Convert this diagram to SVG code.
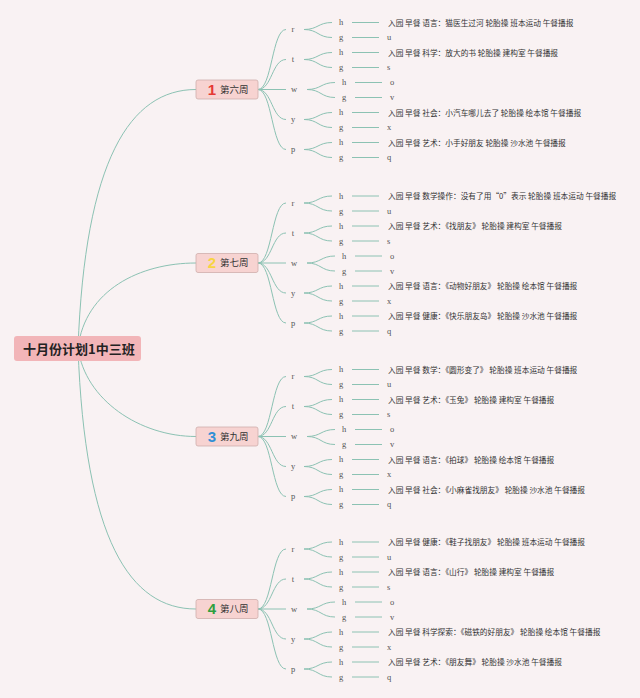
<svg xmlns="http://www.w3.org/2000/svg" width="640" height="698" viewBox="0 0 640 698">
<defs>
<style>
.bg{fill:#f9f2f3}
.cn{fill:none;stroke:#8cc2b3;stroke-width:1}
.rootbox{fill:#f2b5b8}
.roott{font-family:"Noto Sans CJK SC",sans-serif;font-size:13px;font-weight:bold;fill:#222}
.wk{fill:#f7d3d1;stroke:#cfaeac;stroke-width:0.8}
.num{font-family:"Liberation Sans",Arial,sans-serif;font-size:15px;font-weight:bold;text-anchor:middle}
.wt{font-family:"Noto Sans CJK SC",sans-serif;font-size:9.5px;fill:#333}
.lt{font-family:"Liberation Serif",serif;font-size:8.5px;fill:#555;text-anchor:middle}
.lv{font-family:"Liberation Serif",serif;font-size:8.5px;fill:#555}
.vt{font-family:"Noto Sans CJK SC",sans-serif;font-size:7.7px;fill:#333}
</style>
</defs>
<rect class="bg" x="0" y="0" width="640" height="698"/>
<g id="connectors">
 <path class="cn" d="M78 348 C85 160 130 89.5 196 89.5"/>
 <path class="cn" d="M78 348 C85 290 140 263 196 263"/>
 <path class="cn" d="M78 348 C85 400 140 436.5 196 436.5"/>
 <path class="cn" d="M78 348 C85 540 130 609 196 609"/>
 <g id="c-w1" transform="translate(0,89.5)">
  <path class="cn" d="M258 0 C272 0 272 -60 286 -60 M258 0 C272 0 272 -30 286 -30 M258 0 H286 M258 0 C272 0 272 30 286 30 M258 0 C272 0 272 60 286 60"/>
  <path class="cn" d="M304 -60 C318 -60 318 -67 332 -67 M304 -60 C318 -60 318 -52 332 -52 M304 -30 C318 -30 318 -37 332 -37 M304 -30 C318 -30 318 -22 332 -22 M307 0 C321 0 321 -7 335 -7 M307 0 C321 0 321 8 335 8 M304 30 C318 30 318 23 332 23 M304 30 C318 30 318 38 332 38 M304 60 C318 60 318 53 332 53 M304 60 C318 60 318 68 332 68"/>
  <path class="cn" d="M352 -67 H379 M352 -52 H379 M352 -37 H379 M352 -22 H379 M355 -7 H382 M355 8 H382 M352 23 H379 M352 38 H379 M352 53 H379 M352 68 H379"/>
 </g>
 <g id="c-w2" transform="translate(0,263)">
  <path class="cn" d="M258 0 C272 0 272 -60 286 -60 M258 0 C272 0 272 -30 286 -30 M258 0 H286 M258 0 C272 0 272 30 286 30 M258 0 C272 0 272 60 286 60"/>
  <path class="cn" d="M304 -60 C318 -60 318 -67 332 -67 M304 -60 C318 -60 318 -52 332 -52 M304 -30 C318 -30 318 -37 332 -37 M304 -30 C318 -30 318 -22 332 -22 M307 0 C321 0 321 -7 335 -7 M307 0 C321 0 321 8 335 8 M304 30 C318 30 318 23 332 23 M304 30 C318 30 318 38 332 38 M304 60 C318 60 318 53 332 53 M304 60 C318 60 318 68 332 68"/>
  <path class="cn" d="M352 -67 H379 M352 -52 H379 M352 -37 H379 M352 -22 H379 M355 -7 H382 M355 8 H382 M352 23 H379 M352 38 H379 M352 53 H379 M352 68 H379"/>
 </g>
 <g id="c-w3" transform="translate(0,436.5)">
  <path class="cn" d="M258 0 C272 0 272 -60 286 -60 M258 0 C272 0 272 -30 286 -30 M258 0 H286 M258 0 C272 0 272 30 286 30 M258 0 C272 0 272 60 286 60"/>
  <path class="cn" d="M304 -60 C318 -60 318 -67 332 -67 M304 -60 C318 -60 318 -52 332 -52 M304 -30 C318 -30 318 -37 332 -37 M304 -30 C318 -30 318 -22 332 -22 M307 0 C321 0 321 -7 335 -7 M307 0 C321 0 321 8 335 8 M304 30 C318 30 318 23 332 23 M304 30 C318 30 318 38 332 38 M304 60 C318 60 318 53 332 53 M304 60 C318 60 318 68 332 68"/>
  <path class="cn" d="M352 -67 H379 M352 -52 H379 M352 -37 H379 M352 -22 H379 M355 -7 H382 M355 8 H382 M352 23 H379 M352 38 H379 M352 53 H379 M352 68 H379"/>
 </g>
 <g id="c-w4" transform="translate(0,609)">
  <path class="cn" d="M258 0 C272 0 272 -60 286 -60 M258 0 C272 0 272 -30 286 -30 M258 0 H286 M258 0 C272 0 272 30 286 30 M258 0 C272 0 272 60 286 60"/>
  <path class="cn" d="M304 -60 C318 -60 318 -67 332 -67 M304 -60 C318 -60 318 -52 332 -52 M304 -30 C318 -30 318 -37 332 -37 M304 -30 C318 -30 318 -22 332 -22 M307 0 C321 0 321 -7 335 -7 M307 0 C321 0 321 8 335 8 M304 30 C318 30 318 23 332 23 M304 30 C318 30 318 38 332 38 M304 60 C318 60 318 53 332 53 M304 60 C318 60 318 68 332 68"/>
  <path class="cn" d="M352 -67 H379 M352 -52 H379 M352 -37 H379 M352 -22 H379 M355 -7 H382 M355 8 H382 M352 23 H379 M352 38 H379 M352 53 H379 M352 68 H379"/>
 </g>
</g>
<g id="root">
 <rect class="rootbox" x="14" y="336" width="127" height="25" rx="3"/>
 <text class="roott" x="23" y="354">十月份计划1中三班</text>
</g>

<g id="branch-w1" transform="translate(0,89.5)">
 <g id="w1"><rect class="wk" x="196" y="-9.5" width="62" height="19" rx="2"/><text class="num" x="212" y="5" fill="#e53935">1</text><text class="wt" x="220" y="3.3">第六周</text></g>
 <g id="w1-r"><text class="lt" x="293" y="-57.5">r</text></g>
 <g id="w1-r-h"><text class="lt" x="341" y="-64.5">h</text></g>
 <g id="w1-r-h-v"><text class="vt" x="388" y="-64">入园 早餐 语言：猫医生过河 轮胎操 班本运动 午餐播报</text></g>
 <g id="w1-r-g"><text class="lt" x="341" y="-49.5">g</text></g>
 <g id="w1-r-g-v"><text class="lv" x="387" y="-49.5">u</text></g>
 <g id="w1-t"><text class="lt" x="293" y="-27.5">t</text></g>
 <g id="w1-t-h"><text class="lt" x="341" y="-34.5">h</text></g>
 <g id="w1-t-h-v"><text class="vt" x="388" y="-34">入园 早餐 科学：放大的书 轮胎操 建构室 午餐播报</text></g>
 <g id="w1-t-g"><text class="lt" x="341" y="-19.5">g</text></g>
 <g id="w1-t-g-v"><text class="lv" x="387" y="-19.5">s</text></g>
 <g id="w1-w"><text class="lt" x="294" y="2.5">w</text></g>
 <g id="w1-w-h"><text class="lt" x="344" y="-4.5">h</text></g>
 <g id="w1-w-h-v"><text class="lv" x="390" y="-4.5">o</text></g>
 <g id="w1-w-g"><text class="lt" x="344" y="10.5">g</text></g>
 <g id="w1-w-g-v"><text class="lv" x="390" y="10.5">v</text></g>
 <g id="w1-y"><text class="lt" x="293" y="32.5">y</text></g>
 <g id="w1-y-h"><text class="lt" x="341" y="25.5">h</text></g>
 <g id="w1-y-h-v"><text class="vt" x="388" y="26">入园 早餐 社会：小汽车哪儿去了 轮胎操 绘本馆 午餐播报</text></g>
 <g id="w1-y-g"><text class="lt" x="341" y="40.5">g</text></g>
 <g id="w1-y-g-v"><text class="lv" x="387" y="40.5">x</text></g>
 <g id="w1-p"><text class="lt" x="293" y="62.5">p</text></g>
 <g id="w1-p-h"><text class="lt" x="341" y="55.5">h</text></g>
 <g id="w1-p-h-v"><text class="vt" x="388" y="56">入园 早餐 艺术：小手好朋友 轮胎操 沙水池 午餐播报</text></g>
 <g id="w1-p-g"><text class="lt" x="341" y="70.5">g</text></g>
 <g id="w1-p-g-v"><text class="lv" x="387" y="70.5">q</text></g>
</g>

<g id="branch-w2" transform="translate(0,263)">
 <g id="w2"><rect class="wk" x="196" y="-9.5" width="62" height="19" rx="2"/><text class="num" x="212" y="5" fill="#f7d443">2</text><text class="wt" x="220" y="3.3">第七周</text></g>
 <g id="w2-r"><text class="lt" x="293" y="-57.5">r</text></g>
 <g id="w2-r-h"><text class="lt" x="341" y="-64.5">h</text></g>
 <g id="w2-r-h-v"><text class="vt" x="388" y="-64">入园 早餐 数学操作：没有了用“0”表示 轮胎操 班本运动 午餐播报</text></g>
 <g id="w2-r-g"><text class="lt" x="341" y="-49.5">g</text></g>
 <g id="w2-r-g-v"><text class="lv" x="387" y="-49.5">u</text></g>
 <g id="w2-t"><text class="lt" x="293" y="-27.5">t</text></g>
 <g id="w2-t-h"><text class="lt" x="341" y="-34.5">h</text></g>
 <g id="w2-t-h-v"><text class="vt" x="388" y="-34">入园 早餐 艺术：《找朋友》 轮胎操 建构室 午餐播报</text></g>
 <g id="w2-t-g"><text class="lt" x="341" y="-19.5">g</text></g>
 <g id="w2-t-g-v"><text class="lv" x="387" y="-19.5">s</text></g>
 <g id="w2-w"><text class="lt" x="294" y="2.5">w</text></g>
 <g id="w2-w-h"><text class="lt" x="344" y="-4.5">h</text></g>
 <g id="w2-w-h-v"><text class="lv" x="390" y="-4.5">o</text></g>
 <g id="w2-w-g"><text class="lt" x="344" y="10.5">g</text></g>
 <g id="w2-w-g-v"><text class="lv" x="390" y="10.5">v</text></g>
 <g id="w2-y"><text class="lt" x="293" y="32.5">y</text></g>
 <g id="w2-y-h"><text class="lt" x="341" y="25.5">h</text></g>
 <g id="w2-y-h-v"><text class="vt" x="388" y="26">入园 早餐 语言：《动物好朋友》 轮胎操 绘本馆 午餐播报</text></g>
 <g id="w2-y-g"><text class="lt" x="341" y="40.5">g</text></g>
 <g id="w2-y-g-v"><text class="lv" x="387" y="40.5">x</text></g>
 <g id="w2-p"><text class="lt" x="293" y="62.5">p</text></g>
 <g id="w2-p-h"><text class="lt" x="341" y="55.5">h</text></g>
 <g id="w2-p-h-v"><text class="vt" x="388" y="56">入园 早餐 健康：《快乐朋友岛》 轮胎操 沙水池 午餐播报</text></g>
 <g id="w2-p-g"><text class="lt" x="341" y="70.5">g</text></g>
 <g id="w2-p-g-v"><text class="lv" x="387" y="70.5">q</text></g>
</g>

<g id="branch-w3" transform="translate(0,436.5)">
 <g id="w3"><rect class="wk" x="196" y="-9.5" width="62" height="19" rx="2"/><text class="num" x="212" y="5" fill="#2f8fd6">3</text><text class="wt" x="220" y="3.3">第九周</text></g>
 <g id="w3-r"><text class="lt" x="293" y="-57.5">r</text></g>
 <g id="w3-r-h"><text class="lt" x="341" y="-64.5">h</text></g>
 <g id="w3-r-h-v"><text class="vt" x="388" y="-64">入园 早餐 数学：《圆形变了》 轮胎操 班本运动 午餐播报</text></g>
 <g id="w3-r-g"><text class="lt" x="341" y="-49.5">g</text></g>
 <g id="w3-r-g-v"><text class="lv" x="387" y="-49.5">u</text></g>
 <g id="w3-t"><text class="lt" x="293" y="-27.5">t</text></g>
 <g id="w3-t-h"><text class="lt" x="341" y="-34.5">h</text></g>
 <g id="w3-t-h-v"><text class="vt" x="388" y="-34">入园 早餐 艺术：《玉兔》 轮胎操 建构室 午餐播报</text></g>
 <g id="w3-t-g"><text class="lt" x="341" y="-19.5">g</text></g>
 <g id="w3-t-g-v"><text class="lv" x="387" y="-19.5">s</text></g>
 <g id="w3-w"><text class="lt" x="294" y="2.5">w</text></g>
 <g id="w3-w-h"><text class="lt" x="344" y="-4.5">h</text></g>
 <g id="w3-w-h-v"><text class="lv" x="390" y="-4.5">o</text></g>
 <g id="w3-w-g"><text class="lt" x="344" y="10.5">g</text></g>
 <g id="w3-w-g-v"><text class="lv" x="390" y="10.5">v</text></g>
 <g id="w3-y"><text class="lt" x="293" y="32.5">y</text></g>
 <g id="w3-y-h"><text class="lt" x="341" y="25.5">h</text></g>
 <g id="w3-y-h-v"><text class="vt" x="388" y="26">入园 早餐 语言：《拍球》 轮胎操 绘本馆 午餐播报</text></g>
 <g id="w3-y-g"><text class="lt" x="341" y="40.5">g</text></g>
 <g id="w3-y-g-v"><text class="lv" x="387" y="40.5">x</text></g>
 <g id="w3-p"><text class="lt" x="293" y="62.5">p</text></g>
 <g id="w3-p-h"><text class="lt" x="341" y="55.5">h</text></g>
 <g id="w3-p-h-v"><text class="vt" x="388" y="56">入园 早餐 社会：《小麻雀找朋友》 轮胎操 沙水池 午餐播报</text></g>
 <g id="w3-p-g"><text class="lt" x="341" y="70.5">g</text></g>
 <g id="w3-p-g-v"><text class="lv" x="387" y="70.5">q</text></g>
</g>

<g id="branch-w4" transform="translate(0,609)">
 <g id="w4"><rect class="wk" x="196" y="-9.5" width="62" height="19" rx="2"/><text class="num" x="212" y="5" fill="#2e9f3e">4</text><text class="wt" x="220" y="3.3">第八周</text></g>
 <g id="w4-r"><text class="lt" x="293" y="-57.5">r</text></g>
 <g id="w4-r-h"><text class="lt" x="341" y="-64.5">h</text></g>
 <g id="w4-r-h-v"><text class="vt" x="388" y="-64">入园 早餐 健康：《鞋子找朋友》 轮胎操 班本运动 午餐播报</text></g>
 <g id="w4-r-g"><text class="lt" x="341" y="-49.5">g</text></g>
 <g id="w4-r-g-v"><text class="lv" x="387" y="-49.5">u</text></g>
 <g id="w4-t"><text class="lt" x="293" y="-27.5">t</text></g>
 <g id="w4-t-h"><text class="lt" x="341" y="-34.5">h</text></g>
 <g id="w4-t-h-v"><text class="vt" x="388" y="-34">入园 早餐 语言：《山行》 轮胎操 建构室 午餐播报</text></g>
 <g id="w4-t-g"><text class="lt" x="341" y="-19.5">g</text></g>
 <g id="w4-t-g-v"><text class="lv" x="387" y="-19.5">s</text></g>
 <g id="w4-w"><text class="lt" x="294" y="2.5">w</text></g>
 <g id="w4-w-h"><text class="lt" x="344" y="-4.5">h</text></g>
 <g id="w4-w-h-v"><text class="lv" x="390" y="-4.5">o</text></g>
 <g id="w4-w-g"><text class="lt" x="344" y="10.5">g</text></g>
 <g id="w4-w-g-v"><text class="lv" x="390" y="10.5">v</text></g>
 <g id="w4-y"><text class="lt" x="293" y="32.5">y</text></g>
 <g id="w4-y-h"><text class="lt" x="341" y="25.5">h</text></g>
 <g id="w4-y-h-v"><text class="vt" x="388" y="26">入园 早餐 科学探索：《磁铁的好朋友》 轮胎操 绘本馆 午餐播报</text></g>
 <g id="w4-y-g"><text class="lt" x="341" y="40.5">g</text></g>
 <g id="w4-y-g-v"><text class="lv" x="387" y="40.5">x</text></g>
 <g id="w4-p"><text class="lt" x="293" y="62.5">p</text></g>
 <g id="w4-p-h"><text class="lt" x="341" y="55.5">h</text></g>
 <g id="w4-p-h-v"><text class="vt" x="388" y="56">入园 早餐 艺术：《朋友舞》 轮胎操 沙水池 午餐播报</text></g>
 <g id="w4-p-g"><text class="lt" x="341" y="70.5">g</text></g>
 <g id="w4-p-g-v"><text class="lv" x="387" y="70.5">q</text></g>
</g>
</svg>
